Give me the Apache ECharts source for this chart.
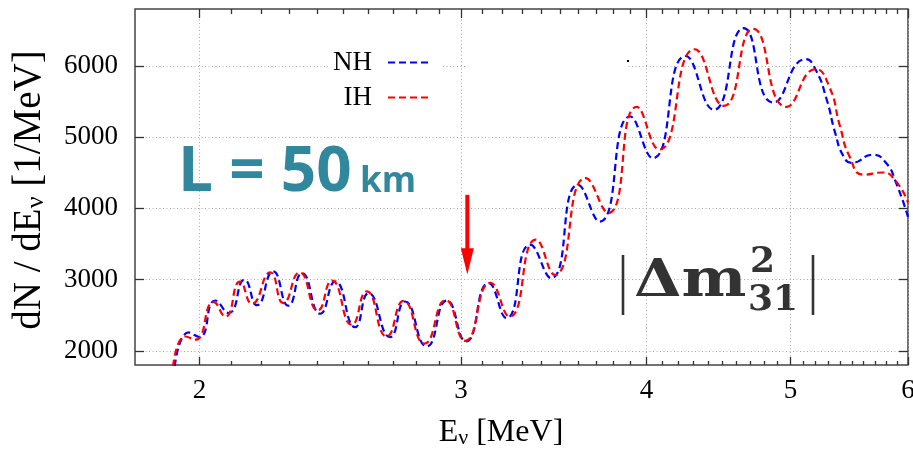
<!DOCTYPE html>
<html>
<head>
<meta charset="utf-8">
<script src="https://cdn.jsdelivr.net/npm/echarts@6/dist/echarts.min.js"></script>
<style>
  html, body { margin: 0; padding: 0; background: #fff; }
  #chart { width: 913px; height: 458px; }
</style>
</head>
<body>
<div id="chart"></div>
<script>
// Reactor antineutrino spectrum at L = 50 km, normal vs inverted mass hierarchy.

// Normal hierarchy: neutrino energy [MeV] and dN/dE [1/MeV]
const NH_E = [1.925, 1.967, 2.0, 2.05, 2.093, 2.145, 2.187, 2.242, 2.296, 2.345, 2.412, 2.469, 2.546,
              2.600, 2.688, 2.751, 2.845, 2.935, 3.024, 3.131, 3.22, 3.34, 3.45, 3.597, 3.72, 3.90,
              4.04, 4.25, 4.44, 4.65, 4.87, 5.12, 5.20, 5.29, 5.36, 5.43, 5.50, 5.68, 5.80, 5.89, 6.0];
const NH_N = [1780, 2257, 2192, 2706, 2530, 2997, 2640, 3114, 2632, 3091, 2520, 2973, 2332,
              2810, 2192, 2692, 2060, 2706, 2130, 2950, 2460, 3490, 3020, 4330, 3815, 5290,
              4705, 6140, 5385, 6530, 5485, 6095, 5947, 5525, 5057, 4729, 4640, 4753, 4636, 4360, 3880];

// Inverted hierarchy
const IH_E = [1.92, 1.957, 1.988, 2.045, 2.082, 2.13, 2.170, 2.232, 2.278, 2.336, 2.403, 2.456, 2.533,
              2.592, 2.674, 2.745, 2.835, 2.930, 3.02, 3.14, 3.235, 3.37, 3.47, 3.64, 3.77, 3.94,
              4.08, 4.31, 4.51, 4.72, 4.97, 5.20, 5.31, 5.40, 5.48, 5.60, 5.77, 5.89, 6.0];
const IH_N = [1780, 2200, 2155, 2683, 2480, 2970, 2660, 3100, 2670, 3100, 2565, 2985, 2365,
              2835, 2200, 2700, 2100, 2710, 2140, 2955, 2480, 3560, 3065, 4425, 3935, 5425,
              4825, 6235, 5440, 6520, 5425, 5955, 5712, 5150, 4729, 4472, 4504, 4378, 4080];

// Axis ranges and tick positions
const X_MIN = 1.81, X_MAX = 6;
const Y_MIN = 1800, Y_MAX = 6800;
const X_MAJOR = [2, 3, 4, 5, 6];
const X_MINOR = [2.1, 2.2, 2.3, 2.4, 2.5, 2.6, 2.7, 2.8, 2.9,
                 3.1, 3.2, 3.3, 3.4, 3.5, 3.6, 3.7, 3.8, 3.9,
                 4.1, 4.2, 4.3, 4.4, 4.5, 4.6, 4.7, 4.8, 4.9,
                 5.1, 5.2, 5.3, 5.4, 5.5, 5.6, 5.7, 5.8, 5.9];
const Y_TICKS = [2000, 3000, 4000, 5000, 6000];

const SERIF = "'Liberation Serif', 'Times New Roman', serif";
const INK = '#333';
const gridDots = { color: '#a8a8a8', width: 1, type: [1, 2.5] };
const ln = Math.log;

const zip = (xs, ys) => xs.map((x, i) => [x, ys[i]]);

// Helper axes in ln(E) space carry the log-spaced ticks and grid lines
function lnAxis(position, ticks, len, extra) {
  return Object.assign({
    type: 'value',
    position: position,
    min: ln(X_MIN),
    max: ln(X_MAX),
    axisLine: { show: false, onZero: false },
    axisTick: {
      show: true, inside: true, length: len,
      customValues: ticks.map(ln),
      lineStyle: { color: INK, width: 1.3 }
    },
    axisLabel: { show: false },
    splitLine: { show: false }
  }, extra || {});
}

function yAxisAt(position, extra) {
  return Object.assign({
    type: 'value',
    position: position,
    min: Y_MIN,
    max: Y_MAX,
    axisLine: { show: false, onZero: false },
    axisTick: {
      show: true, inside: true, length: 9,
      customValues: Y_TICKS,
      lineStyle: { color: INK, width: 1.3 }
    },
    axisLabel: { show: false },
    splitLine: { show: false }
  }, extra || {});
}

const chart = echarts.init(document.getElementById('chart'), null, { renderer: 'canvas' });

const seriesLine = (name, color, xs, ys) => ({
  name: name,
  type: 'line',
  xAxisIndex: 0,
  yAxisIndex: 0,
  data: zip(xs, ys),
  smooth: 0.55,
  symbol: 'none',
  clip: true,
  lineStyle: { color: color, width: 2.2, type: [7, 4] },
  itemStyle: { color: color }
});

chart.setOption({
  animation: false,
  textStyle: { fontFamily: SERIF },
  grid: {
    left: 135, right: 5, top: 9, bottom: 93,
    show: true, borderColor: '#444', borderWidth: 1.5,
    outerBoundsMode: 'none'
  },
  legend: {
    data: ['NH', 'IH'],
    orient: 'vertical',
    left: 333,
    top: 49,
    align: 'right',
    selectedMode: false,
    itemWidth: 40,
    itemHeight: 12,
    itemGap: 8,
    padding: 0,
    itemStyle: { opacity: 0 },
    textStyle: { fontFamily: SERIF, fontSize: 27, color: '#000', padding: [0, 11, 0, 0] }
  },
  xAxis: [
    { type: 'log', min: X_MIN, max: X_MAX, show: false },
    lnAxis('bottom', X_MAJOR, 8, { splitLine: { show: true, lineStyle: gridDots } }),
    lnAxis('bottom', X_MINOR, 4),
    lnAxis('top', X_MAJOR, 9),
    lnAxis('top', X_MINOR, 5)
  ],
  yAxis: [
    yAxisAt('left', { splitLine: { show: true, lineStyle: gridDots } }),
    yAxisAt('right')
  ],
  series: [
    seriesLine('NH', '#0000ff', NH_E, NH_N),
    seriesLine('IH', '#ff0000', IH_E, IH_N)
  ]
});

const toPx = p => chart.convertToPixel({ xAxisIndex: 0, yAxisIndex: 0 }, p);
const gridRect = chart.getModel().getComponent('grid', 0).coordinateSystem.getRect();

// Tick labels placed at the axis positions of their values
const tickText = (x, y, text, align, vAlign) => ({
  type: 'text', z: 10, x: x, y: y,
  style: { text: text, fontFamily: SERIF, fontSize: 27, fill: '#000', align: align, verticalAlign: vAlign }
});
const xTickLabels = X_MAJOR.map(e =>
  tickText(toPx([e, Y_MIN])[0], gridRect.y + gridRect.height + 12, String(e), 'center', 'top'));
const yTickLabels = Y_TICKS.map(v =>
  tickText(gridRect.x - 17, toPx([X_MIN, v])[1], String(v), 'right', 'middle'));

// Arrow marking E = 3.03 MeV, anchored in data coordinates
const ARROW_E = 3.03, ARROW_TOP = 4190, ARROW_NECK = 3440, ARROW_TIP = 3070;
const aTop = toPx([ARROW_E, ARROW_TOP]);
const aNeck = toPx([ARROW_E, ARROW_NECK]);
const aTip = toPx([ARROW_E, ARROW_TIP]);

const LABEL_FONT = "'Open Sans', 'Noto Sans', sans-serif";
const MATH_FONT = "'DejaVu Serif', serif";

chart.setOption({
  graphic: xTickLabels.concat(yTickLabels, [
    // key area background
    { type: 'rect', z: 1, shape: { x: 328, y: 59, width: 115, height: 14 }, style: { fill: '#fff' } },
    { type: 'rect', z: 1, shape: { x: 465, y: 60, width: 162, height: 12 }, style: { fill: '#fff' } },
    { type: 'rect', z: 1, shape: { x: 627, y: 60, width: 2, height: 2 }, style: { fill: '#000' } },
    // baseline label
    {
      type: 'text', z: 10, x: 178, y: 204,
      style: { text: 'L = 50', fontFamily: LABEL_FONT, fontWeight: 'bold',
               fontSize: 62, fill: '#31889d', verticalAlign: 'bottom', align: 'left' }
    },
    {
      type: 'text', z: 10, x: 360, y: 200,
      style: { text: 'km', fontFamily: LABEL_FONT, fontWeight: 'bold',
               fontSize: 35, fill: '#31889d', verticalAlign: 'bottom', align: 'left' }
    },
    // |Δm²₃₁|
    { type: 'line', z: 10, shape: { x1: 623, y1: 255, x2: 623, y2: 315 }, style: { stroke: INK, lineWidth: 2.6 } },
    { type: 'line', z: 10, shape: { x1: 813, y1: 255, x2: 813, y2: 315 }, style: { stroke: INK, lineWidth: 2.6 } },
    {
      type: 'text', z: 10, x: 634, y: 282, scaleX: 1.18,
      style: { text: 'Δm', fontFamily: MATH_FONT, fontWeight: 'bold', fontSize: 52,
               fill: INK, verticalAlign: 'middle', align: 'left' }
    },
    {
      type: 'text', z: 10, x: 750, y: 263,
      style: { text: '2', fontFamily: MATH_FONT, fontWeight: 'bold', fontSize: 36,
               fill: INK, verticalAlign: 'middle', align: 'left' }
    },
    {
      type: 'text', z: 10, x: 748, y: 301,
      style: { text: '31', fontFamily: MATH_FONT, fontWeight: 'bold', fontSize: 36,
               fill: INK, verticalAlign: 'middle', align: 'left' }
    },
    // arrow
    { type: 'line', z: 10, shape: { x1: aTop[0], y1: aTop[1], x2: aNeck[0], y2: aNeck[1] + 2 },
      style: { stroke: '#ff0000', lineWidth: 4 } },
    { type: 'polygon', z: 10,
      shape: { points: [[aNeck[0] - 6.5, aNeck[1]], [aNeck[0] + 6.5, aNeck[1]], [aTip[0], aTip[1]]] },
      style: { fill: '#ff0000' } },
    // axis titles
    {
      type: 'text', z: 10, x: 501, y: 433,
      style: {
        text: 'E{s|ν} [MeV]', fontFamily: SERIF, fontSize: 32, fill: '#000',
        align: 'center', verticalAlign: 'middle',
        rich: { s: { fontFamily: SERIF, fontSize: 22, lineHeight: 4, verticalAlign: 'bottom' } }
      }
    },
    {
      type: 'text', z: 10, x: 30, y: 190, rotation: Math.PI / 2,
      style: {
        text: 'dN / dE{s|ν} [1/MeV]', fontFamily: SERIF, fontSize: 39, fill: '#000',
        align: 'center', verticalAlign: 'middle',
        rich: { s: { fontFamily: SERIF, fontSize: 26, lineHeight: 6, verticalAlign: 'bottom' } }
      }
    }
  ])
});
</script>
</body>
</html>
